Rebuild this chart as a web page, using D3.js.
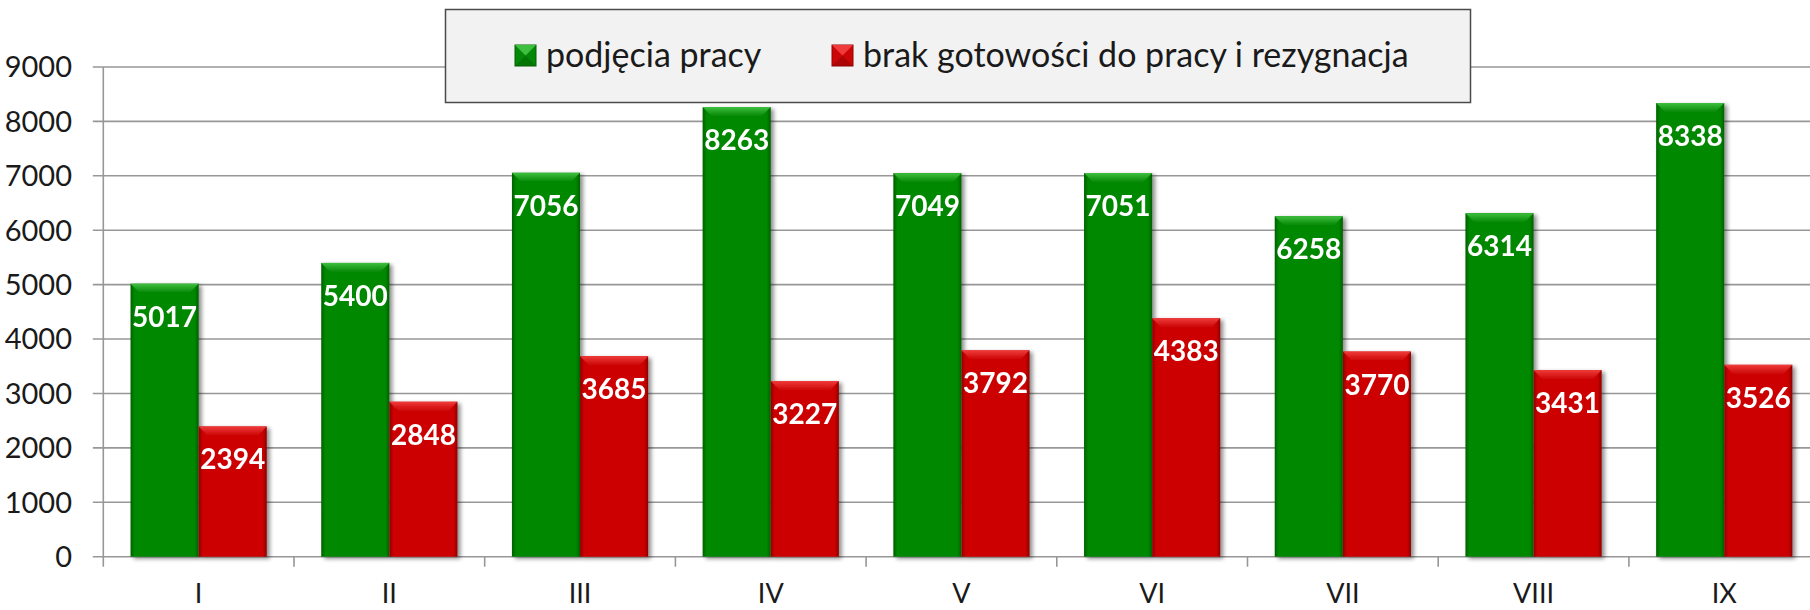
<!DOCTYPE html>
<html>
<head>
<meta charset="utf-8">
<script src="https://cdn.jsdelivr.net/npm/d3@7/dist/d3.min.js"></script>
<style>
    html, body { margin: 0; padding: 0; background: #fff; overflow: hidden; }
    svg text { font-family: Lato, "Open Sans", "DejaVu Sans", sans-serif; }
</style>
</head>
<body>
<div id="chart"></div>
<script>
;(function () {

    var months = ['I', 'II', 'III', 'IV', 'V', 'VI', 'VII', 'VIII', 'IX'];
    var seriesNames = ['podjęcia pracy', 'brak gotowości do pracy i rezygnacja'];
    var podjecia = [5017, 5400, 7056, 8263, 7049, 7051, 6258, 6314, 8338];
    var brak = [2394, 2848, 3685, 3227, 3792, 4383, 3770, 3431, 3526];
    var yTicks = [0, 1000, 2000, 3000, 4000, 5000, 6000, 7000, 8000, 9000];

    var width = 1810
        , height = 610
        , left = 103.3
        , step = 190.7
        , top = 67
        , bottom = 556.7;

    // colours: main, light (bevel top), dark (edges)
    var colors = [
        { main: '#058805', light: '#3fbf3f', dark: '#036003' },
        { main: '#cc0606', light: '#ef3b3b', dark: '#8e0303' }
    ];

    var svg = d3.select('#chart').append('svg')
        .attr('width', width)
        .attr('height', height);

    var defs = svg.append('defs');

    var shadow = defs.append('filter').attr('id', 'shadow')
        .attr('x', '-20%').attr('y', '-10%').attr('width', '150%').attr('height', '130%');
    shadow.append('feGaussianBlur').attr('in', 'SourceAlpha').attr('stdDeviation', 2.2);
    shadow.append('feOffset').attr('dx', 3).attr('dy', 2).attr('result', 'b');
    shadow.append('feComponentTransfer').append('feFuncA').attr('type', 'linear').attr('slope', 0.45);
    var merge = shadow.append('feMerge');
    merge.append('feMergeNode');
    merge.append('feMergeNode').attr('in', 'SourceGraphic');

    colors.forEach(function (c, i) {
        var g = defs.append('linearGradient').attr('id', 'side' + i)
            .attr('x1', 0).attr('x2', 1).attr('y1', 0).attr('y2', 0);
        g.append('stop').attr('offset', '0%').attr('stop-color', c.dark);
        g.append('stop').attr('offset', '6%').attr('stop-color', c.main);
        g.append('stop').attr('offset', '94%').attr('stop-color', c.main);
        g.append('stop').attr('offset', '100%').attr('stop-color', c.dark);

        var t = defs.append('linearGradient').attr('id', 'top' + i)
            .attr('x1', 0).attr('x2', 0).attr('y1', 0).attr('y2', 1);
        t.append('stop').attr('offset', '0%').attr('stop-color', c.light);
        t.append('stop').attr('offset', '100%').attr('stop-color', c.main);
    });

    var x0 = d3.scaleBand()
        .domain(months)
        .range([left, left + step * months.length])
        .padding(0);

    var x1 = d3.scaleBand()
        .domain([0, 1])
        .range([0, x0.bandwidth()])
        .paddingInner(0)
        .paddingOuter(0.4);

    var y = d3.scaleLinear()
        .domain([0, 9000])
        .range([bottom, top]);

    // gridlines + y ticks
    var grid = svg.append('g');
    grid.selectAll('line')
        .data(yTicks)
        .enter().append('line')
        .attr('x1', left - 10.5)
        .attr('x2', width)
        .attr('y1', function (d) { return y(d); })
        .attr('y2', function (d) { return y(d); })
        .attr('stroke', '#979797')
        .attr('stroke-width', 1.6);

    grid.selectAll('text')
        .data(yTicks)
        .enter().append('text')
        .attr('x', 72)
        .attr('y', function (d) { return y(d); })
        .attr('dy', '0.36em')
        .attr('text-anchor', 'end')
        .attr('font-size', 29)
        .attr('fill', '#1a1a1a')
        .text(function (d) { return d; });

    // y axis line
    svg.append('line')
        .attr('x1', left).attr('x2', left)
        .attr('y1', top).attr('y2', bottom + 10)
        .attr('stroke', '#979797').attr('stroke-width', 1.6);

    // x axis ticks at category boundaries
    svg.append('g').selectAll('line')
        .data(months.slice(1))
        .enter().append('line')
        .attr('x1', function (d) { return x0(d); })
        .attr('x2', function (d) { return x0(d); })
        .attr('y1', bottom)
        .attr('y2', bottom + 10)
        .attr('stroke', '#979797')
        .attr('stroke-width', 1.6);

    svg.append('g').selectAll('text')
        .data(months)
        .enter().append('text')
        .attr('x', function (d) { return x0(d) + x0.bandwidth() / 2; })
        .attr('y', 603)
        .attr('text-anchor', 'middle')
        .attr('font-size', 27)
        .attr('fill', '#1a1a1a')
        .text(function (d) { return d; });

    // bars
    var rows = [];
    months.forEach(function (m, i) {
        rows.push({ m: m, s: 0, v: podjecia[i] });
        rows.push({ m: m, s: 1, v: brak[i] });
    });

    var bw = x1.bandwidth();
    var bev = 9;

    var bars = svg.append('g').selectAll('g.bar')
        .data(rows)
        .enter().append('g')
        .attr('class', 'bar')
        .attr('filter', 'url(#shadow)')
        .attr('transform', function (d) {
            return 'translate(' + (x0(d.m) + x1(d.s)) + ',' + y(d.v) + ')';
        });

    bars.append('rect')
        .attr('width', bw)
        .attr('height', function (d) { return y(0) - y(d.v); })
        .attr('fill', function (d) { return 'url(#side' + d.s + ')'; });

    bars.append('path')
        .attr('d', 'M0,0L' + bw + ',0L' + (bw - bev) + ',' + bev + 'L' + bev + ',' + bev + 'Z')
        .attr('fill', function (d) { return 'url(#top' + d.s + ')'; });

    bars.append('text')
        .attr('x', bw / 2)
        .attr('y', 43)
        .attr('text-anchor', 'middle')
        .attr('font-size', 28)
        .attr('font-weight', 'bold')
        .attr('fill', '#fff')
        .text(function (d) { return d.v; });

    // legend
    var legend = svg.append('g');
    legend.append('rect')
        .attr('x', 445.5).attr('y', 9.5)
        .attr('width', 1025).attr('height', 93)
        .attr('fill', '#f2f2f2')
        .attr('stroke', '#4a4a4a')
        .attr('stroke-width', 1.5);

    var legendX = [515, 832];
    seriesNames.forEach(function (name, i) {
        var g = legend.append('g').attr('transform', 'translate(' + legendX[i] + ',45)');
        var s = 21;
        g.append('rect').attr('width', s).attr('height', s)
            .attr('fill', colors[i].main).attr('stroke', colors[i].dark).attr('stroke-width', 1);
        g.append('path')
            .attr('d', 'M0,0L' + s + ',0L' + s / 2 + ',' + s / 2 + 'Z')
            .attr('fill', colors[i].light);
        g.append('path')
            .attr('d', 'M0,' + s + 'L' + s + ',' + s + 'L' + s / 2 + ',' + s / 2 + 'Z')
            .attr('fill', colors[i].dark).attr('opacity', 0.5);
        g.append('text')
            .attr('x', s + 10)
            .attr('y', 22)
            .attr('font-size', 34)
            .attr('fill', '#1a1a1a')
            .text(name);
    });

}());
</script>
</body>
</html>
